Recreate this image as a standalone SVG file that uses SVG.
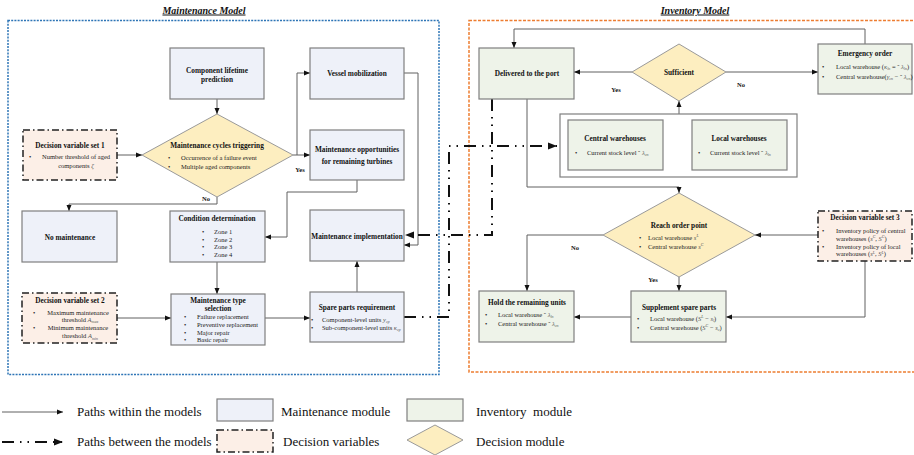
<svg xmlns="http://www.w3.org/2000/svg" width="914" height="455" viewBox="0 0 914 455">
<style>
.mn{fill:#eef1f9;stroke:#7f7f7f;stroke-width:1.2}
.iv{fill:#eef3e9;stroke:#7f7f7f;stroke-width:1.2}
.dv{fill:#fcefe7;stroke:#222;stroke-width:1.5;stroke-dasharray:7 3 1.5 3}
.dm{fill:#fdeec0;stroke:#9a9a9a;stroke-width:1}
.box{fill:#fff;stroke:#7f7f7f;stroke-width:1.2}
.t{font-family:"Liberation Serif",serif;font-weight:bold;font-size:7.3px;text-anchor:middle;fill:#111}
.b{font-family:"Liberation Serif",serif;font-size:6.5px;fill:#222}
.bc{font-family:"Liberation Serif",serif;font-size:6.5px;fill:#222;text-anchor:middle}
.lb{font-family:"Liberation Serif",serif;font-weight:bold;font-size:6.5px;text-anchor:middle;fill:#111}
.m{font-style:italic;fill:#555}
.c{fill:none;stroke:#606060;stroke-width:1}
.dd{fill:none;stroke:#111;stroke-width:2;stroke-dasharray:12 6 1.5 6 1.5 6}
.lg{font-family:"Liberation Serif",serif;font-size:13px;fill:#111;white-space:pre}
.ttl{font-family:"Liberation Serif",serif;font-weight:bold;font-style:italic;font-size:10px;text-anchor:middle;text-decoration:underline;fill:#111}
</style>
<defs>
<marker id="a" markerUnits="userSpaceOnUse" markerWidth="6" markerHeight="6" refX="6" refY="3" orient="auto"><path d="M0,0.5 L6,3 L0,5.5 z" fill="#111"/></marker>
<marker id="A" markerUnits="userSpaceOnUse" markerWidth="9" markerHeight="8" refX="9" refY="4" orient="auto"><path d="M0,0.5 L9,4 L0,7.5 z" fill="#111"/></marker>
</defs>
<rect width="914" height="455" fill="#fff"/>

<!-- model frames -->
<g id="maintenance-model">
<text class="ttl" x="204" y="13.5">Maintenance Model</text>
<rect x="8" y="20.5" width="431" height="354" fill="none" stroke="#2e75b6" stroke-width="1.5" stroke-dasharray="2 1.2"/>
</g>
<g id="inventory-model">
<text class="ttl" x="695" y="13.5">Inventory Model</text>
<rect x="469" y="20.5" width="450" height="351.5" fill="none" stroke="#ed7d31" stroke-width="1.5" stroke-dasharray="3 1.5"/>
</g>

<!-- connectors -->
<g id="connectors">
<path class="c" d="M217,99 V114" marker-end="url(#a)"/>
<path class="c" d="M117,155 H142" marker-end="url(#a)"/>
<path class="c" d="M293,155 H310" marker-end="url(#a)"/>
<path class="c" d="M297,155 V73 H310" marker-end="url(#a)"/>
<path class="c" d="M217,197 V204 H69 V211" marker-end="url(#a)"/>
<path class="c" d="M357,180 V192 H287 V237 H265" marker-end="url(#a)"/>
<path class="c" d="M404,73 H418 V245 H404" marker-end="url(#a)"/>
<path class="c" d="M217,262 V294" marker-end="url(#a)"/>
<path class="c" d="M117,318 H171" marker-end="url(#a)"/>
<path class="c" d="M265,318 H310" marker-end="url(#a)"/>
<path class="c" d="M357,292 V261" marker-end="url(#a)"/>
<path class="c" d="M679,114 V101" marker-end="url(#a)"/>
<path class="c" d="M632,72 H574" marker-end="url(#a)"/>
<path class="c" d="M726,72 H818" marker-end="url(#a)"/>
<path class="c" d="M865,44 V29 H514 V48" marker-end="url(#a)"/>
<path class="c" d="M527,99 V187 H679 V193" marker-end="url(#a)"/>
<path class="c" d="M818,235 H755" marker-end="url(#a)"/>
<path class="c" d="M603,235 H527 V291" marker-end="url(#a)"/>
<path class="c" d="M679,277 V291" marker-end="url(#a)"/>
<path class="c" d="M631,317 H574" marker-end="url(#a)"/>
<path class="c" d="M865,261 V317 H726" marker-end="url(#a)"/>
<path class="dd" d="M404,317 H449 V146 H557" marker-end="url(#A)"/>
<path class="dd" d="M492,99 V235 H405" marker-end="url(#A)"/>
<text class="lb" x="206" y="201">No</text>
<text class="lb" x="300" y="171.5">Yes</text>
<text class="lb" x="616" y="91.5">Yes</text>
<text class="lb" x="741" y="86.5">No</text>
<text class="lb" x="575" y="249.5">No</text>
<text class="lb" x="653" y="281.5">Yes</text>
</g>

<!-- maintenance nodes -->
<g id="component-lifetime">
<rect class="mn" x="170" y="48" width="94" height="51"/>
<text class="t" x="217" y="72.5">Component lifetime</text>
<text class="t" x="217" y="81.5">prediction</text>
</g>
<g id="vessel-mobilization">
<rect class="mn" x="310" y="48" width="94" height="51"/>
<text class="t" x="357" y="76">Vessel mobilization</text>
</g>
<g id="maintenance-opportunities">
<rect class="mn" x="310" y="130" width="94" height="50"/>
<text class="t" x="357" y="152">Maintenance opportunities</text>
<text class="t" x="357" y="164">for remaining turbines</text>
</g>
<g id="dv1">
<rect class="dv" x="23" y="130" width="94" height="50"/>
<text class="t" x="70" y="147.5">Decision variable set 1</text>
<text class="b" x="29" y="159">•</text>
<text class="bc" x="76" y="159">Number threshold of aged</text>
<text class="bc" x="76" y="168">components <tspan class="m">ζ</tspan></text>
</g>
<g id="maintenance-cycles">
<polygon class="dm" points="217,114 293,155 217,197 142,155"/>
<text class="t" x="217" y="147.5">Maintenance cycles triggering</text>
<text class="b" x="168" y="159.5">•</text>
<text class="b" x="181" y="159.5">Occurrence of a failure event</text>
<text class="b" x="168" y="168.5">•</text>
<text class="b" x="181" y="168.5">Multiple aged components</text>
</g>
<g id="no-maintenance">
<rect class="mn" x="22" y="211" width="95" height="51"/>
<text class="t" x="70" y="239.5">No maintenance</text>
</g>
<g id="condition-determination">
<rect class="mn" x="170" y="211" width="95" height="51"/>
<text class="t" x="217" y="220.5">Condition determination</text>
<text class="b" x="202" y="234">•</text><text class="b" x="214" y="234">Zone 1</text>
<text class="b" x="202" y="241.5">•</text><text class="b" x="214" y="241.5">Zone 2</text>
<text class="b" x="202" y="249">•</text><text class="b" x="214" y="249">Zone 3</text>
<text class="b" x="202" y="256.5">•</text><text class="b" x="214" y="256.5">Zone 4</text>
</g>
<g id="maintenance-implementation">
<rect class="mn" x="310" y="210" width="94" height="51"/>
<text class="t" x="357" y="238.5">Maintenance implementation</text>
</g>
<g id="dv2">
<rect class="dv" x="22" y="293" width="95" height="50"/>
<text class="t" x="70" y="302.5">Decision variable set 2</text>
<text class="b" x="33" y="314.5">•</text>
<text class="bc" x="78" y="314.5">Maximum maintenance</text>
<text class="bc" x="80" y="321.5">threshold <tspan class="m">A</tspan><tspan class="m" font-size="4" dy="1.5">max</tspan></text>
<text class="b" x="33" y="330">•</text>
<text class="bc" x="78" y="330">Minimum maintenance</text>
<text class="bc" x="80" y="338">threshold <tspan class="m">A</tspan><tspan class="m" font-size="4" dy="1.5">min</tspan></text>
</g>
<g id="maintenance-type">
<rect class="mn" x="171" y="294" width="94" height="51"/>
<text class="t" x="218" y="302.5">Maintenance type</text>
<text class="t" x="218" y="310.5">selection</text>
<text class="b" x="184" y="318.5">•</text><text class="b" x="197" y="318.5">Failure replacement</text>
<text class="b" x="184" y="326.5">•</text><text class="b" x="197" y="326.5">Preventive replacement</text>
<text class="b" x="184" y="334.5">•</text><text class="b" x="197" y="334.5">Major repair</text>
<text class="b" x="184" y="342">•</text><text class="b" x="197" y="342">Basic repair</text>
</g>
<g id="spare-parts">
<rect class="mn" x="310" y="292" width="94" height="50"/>
<text class="t" x="357" y="309.5">Spare parts requirement</text>
<text class="b" x="311" y="321.5">•</text>
<text class="b" x="322" y="321.5">Component-level units <tspan class="m">y</tspan><tspan class="m" font-size="4" dy="1.5">cp</tspan></text>
<text class="b" x="311" y="329.5">•</text>
<text class="b" x="322" y="329.5">Sub-component-level units <tspan class="m">κ</tspan><tspan class="m" font-size="4" dy="1.5">cp</tspan></text>
</g>

<!-- inventory nodes -->
<g id="delivered">
<rect class="iv" x="479" y="48" width="95" height="51"/>
<text class="t" x="527" y="76">Delivered to the port</text>
</g>
<g id="sufficient">
<polygon class="dm" points="679,44 726,72 679,101 632,72"/>
<text class="t" x="679" y="75">Sufficient</text>
</g>
<g id="emergency-order">
<rect class="iv" x="818" y="44" width="94" height="50"/>
<text class="t" x="865" y="56">Emergency order</text>
<text class="b" x="822" y="68.5">•</text>
<text class="b" x="836" y="68.5">Local warehouse (<tspan class="m">κ</tspan><tspan class="m" font-size="4" dy="1.5">ln</tspan><tspan dy="-1.5"> = ˜ </tspan><tspan class="m">λ</tspan><tspan class="m" font-size="4" dy="1.5">ln</tspan><tspan dy="-1.5">)</tspan></text>
<text class="b" x="822" y="78.5">•</text>
<text class="b" x="836" y="78.5">Central warehouse(<tspan class="m">γ</tspan><tspan class="m" font-size="4" dy="1.5">cn</tspan><tspan dy="-1.5"> − ˜ </tspan><tspan class="m">λ</tspan><tspan class="m" font-size="4" dy="1.5">cn</tspan><tspan dy="-1.5">)</tspan></text>
</g>
<g id="warehouses">
<rect class="box" x="560" y="114" width="237" height="63"/>
</g>
<g id="central-warehouses">
<rect class="iv" x="568" y="120" width="95" height="50"/>
<text class="t" x="615" y="140.5">Central warehouses</text>
<text class="b" x="575" y="154.5">•</text>
<text class="b" x="587" y="154.5">Current stock level ˜ <tspan class="m">λ</tspan><tspan class="m" font-size="4" dy="1.5">cn</tspan></text>
</g>
<g id="local-warehouses">
<rect class="iv" x="692" y="120" width="95" height="50"/>
<text class="t" x="739" y="140.5">Local warehouses</text>
<text class="b" x="698" y="154.5">•</text>
<text class="b" x="710" y="154.5">Current stock level ˜ <tspan class="m">λ</tspan><tspan class="m" font-size="4" dy="1.5">ln</tspan></text>
</g>
<g id="reach-order-point">
<polygon class="dm" points="679,193 755,235 679,277 603,235"/>
<text class="t" x="679" y="227.5">Reach order point</text>
<text class="b" x="639" y="239.5">•</text>
<text class="b" x="648" y="239.5">Local warehouse <tspan class="m">s</tspan><tspan class="m" font-size="4" dy="-2.5">L</tspan></text>
<text class="b" x="639" y="248.5">•</text>
<text class="b" x="648" y="248.5">Central warehouse <tspan class="m">s</tspan><tspan class="m" font-size="4" dy="-2.5">C</tspan></text>
</g>
<g id="dv3">
<rect class="dv" x="818" y="211" width="94" height="50"/>
<text class="t" x="865" y="220">Decision variable set 3</text>
<text class="b" x="822" y="232.5">•</text>
<text class="b" x="836" y="232.5">Inventory policy of central</text>
<text class="b" x="836" y="240.5">warehouses (<tspan class="m">s</tspan><tspan class="m" font-size="4" dy="-2.5">C</tspan><tspan dy="2.5">, </tspan><tspan class="m">S</tspan><tspan class="m" font-size="4" dy="-2.5">C</tspan><tspan dy="2.5">)</tspan></text>
<text class="b" x="822" y="248.5">•</text>
<text class="b" x="836" y="248.5">Inventory policy of local</text>
<text class="b" x="836" y="256">warehouses (<tspan class="m">s</tspan><tspan class="m" font-size="4" dy="-2.5">L</tspan><tspan dy="2.5">, </tspan><tspan class="m">S</tspan><tspan class="m" font-size="4" dy="-2.5">L</tspan><tspan dy="2.5">)</tspan></text>
</g>
<g id="hold-remaining">
<rect class="iv" x="479" y="291" width="95" height="51"/>
<text class="t" x="527" y="304.5">Hold the remaining units</text>
<text class="b" x="485" y="316.5">•</text>
<text class="b" x="498" y="316.5">Local warehouse ˜ <tspan class="m">λ</tspan><tspan class="m" font-size="4" dy="1.5">ln</tspan></text>
<text class="b" x="485" y="325.5">•</text>
<text class="b" x="498" y="325.5">Central warehouse ˜ <tspan class="m">λ</tspan><tspan class="m" font-size="4" dy="1.5">cn</tspan></text>
</g>
<g id="supplement">
<rect class="iv" x="631" y="291" width="95" height="51"/>
<text class="t" x="679" y="309.5">Supplement spare parts</text>
<text class="b" x="637" y="320.5">•</text>
<text class="b" x="650" y="320.5">Local warehouse (<tspan class="m">S</tspan><tspan class="m" font-size="4" dy="-2.5">L</tspan><tspan dy="2.5"> − </tspan><tspan class="m">s</tspan><tspan class="m" font-size="4" dy="1.5">l</tspan><tspan dy="-1.5">)</tspan></text>
<text class="b" x="637" y="329.5">•</text>
<text class="b" x="650" y="329.5">Central warehouse (<tspan class="m">S</tspan><tspan class="m" font-size="4" dy="-2.5">C</tspan><tspan dy="2.5"> − </tspan><tspan class="m">s</tspan><tspan class="m" font-size="4" dy="1.5">c</tspan><tspan dy="-1.5">)</tspan></text>
</g>

<!-- legend -->
<g id="legend">
<path class="c" d="M2,412 H63" stroke="#111" marker-end="url(#a)"/>
<text class="lg" x="77" y="416">Paths within the models</text>
<rect class="mn" x="217" y="399" width="56" height="22"/>
<text class="lg" x="281" y="416">Maintenance module</text>
<rect class="iv" x="407" y="399" width="56" height="22"/>
<text class="lg" x="476" y="416">Inventory  module</text>
<path class="dd" d="M2,442 H63" stroke-dasharray="14 7 1.5 5 1.5 7" marker-end="url(#A)"/>
<text class="lg" x="77" y="446">Paths between the models</text>
<rect class="dv" x="217" y="430" width="56" height="22"/>
<text class="lg" x="283" y="446">Decision variables</text>
<polygon class="dm" points="435,425 463,440 435,455 407,440"/>
<text class="lg" x="476" y="446">Decision module</text>
</g>
</svg>
